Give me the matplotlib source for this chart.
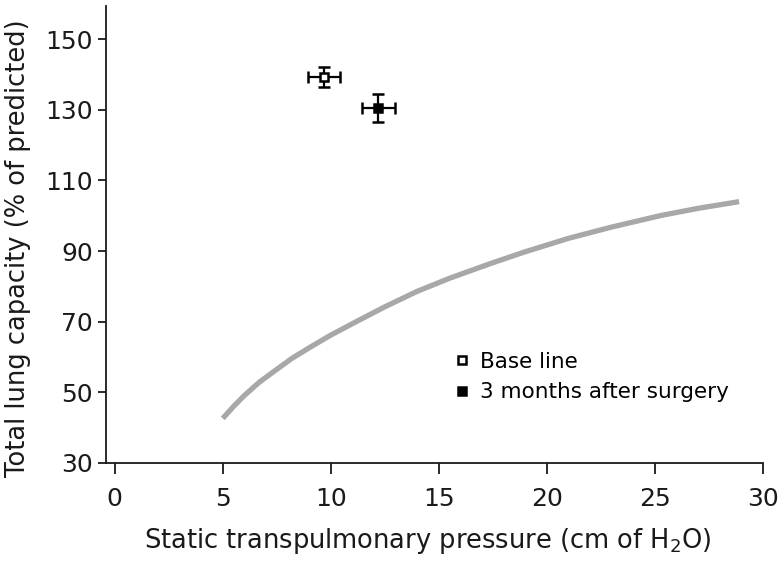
import matplotlib
matplotlib.use("Agg")
import matplotlib.pyplot as plt
from matplotlib.lines import Line2D

plt.rcParams['font.family'] = ['DejaVu Sans']
plt.rcParams['mathtext.fontset'] = 'dejavusans'

# Reference curve (gray)
curve_x = [5.0, 5.5, 6.0, 6.7, 7.5, 8.2, 9.0, 10.0, 11.3, 12.5, 14.0, 15.5, 17.5, 19.0, 21.0, 23.0, 25.3, 27.0, 28.9]
curve_y = [42.6, 46.0, 49.1, 52.9, 56.5, 59.6, 62.6, 66.2, 70.4, 74.2, 78.6, 82.3, 86.7, 89.8, 93.6, 96.8, 100.1, 102.1, 104.0]

# Measured points
labels = ["Base line", "3 months after surgery"]
px = [9.7, 12.2]
py = [139.3, 130.5]
pxerr = [0.75, 0.77]
pyerr = [2.7, 3.9]

fig = plt.figure(figsize=(7.8, 5.68), dpi=100)
ax = fig.add_axes([0.136, 0.185, 0.842, 0.805])

ax.plot(curve_x, curve_y, color='#a8a8a8', lw=3.8, solid_capstyle='butt',
        solid_joinstyle='round', zorder=1)

face = ['white', 'black']
for i in range(2):
    ax.errorbar(px[i], py[i], xerr=pxerr[i], yerr=pyerr[i], fmt='s', ms=6,
                mfc=face[i], mec='black', mew=1.8, ecolor='black', elinewidth=1.6,
                capsize=4, capthick=1.6, zorder=3)

ax.set_xlim(-0.4, 30)
ax.set_ylim(30, 159.5)
ax.set_xticks([0, 5, 10, 15, 20, 25, 30])
ax.set_yticks([30, 50, 70, 90, 110, 130, 150])

for s in ['top', 'right']:
    ax.spines[s].set_visible(False)
for s in ['left', 'bottom']:
    ax.spines[s].set_linewidth(1.3)
    ax.spines[s].set_color('#1a1a1a')

ax.tick_params(axis='x', direction='out', length=8, width=1.3, pad=9, labelsize=18, colors='#1a1a1a')
ax.tick_params(axis='y', direction='out', length=5.5, width=1.3, pad=4, labelsize=18, colors='#1a1a1a')

ax.set_xlabel(r'Static transpulmonary pressure (cm of H$_2$O)', fontsize=18.5, color='#1a1a1a')
ax.set_ylabel('Total lung capacity (% of predicted)', fontsize=18.5, color='#1a1a1a')
ax.xaxis.set_label_coords(0.49, -0.137)
ax.yaxis.set_label_coords(-0.114, 0.47)

handles = [Line2D([], [], ls='none', marker='s', ms=5.5, mfc='white', mec='black', mew=1.8),
           Line2D([], [], ls='none', marker='s', ms=5.5, mfc='black', mec='black', mew=1.8)]
ax.legend(handles, labels, loc='upper left', bbox_to_anchor=(0.519, 0.262), frameon=False,
          fontsize=15.5, handlelength=0.6, handletextpad=0.55, labelspacing=0.5, borderaxespad=0)

fig.savefig('out.png', dpi=100)
